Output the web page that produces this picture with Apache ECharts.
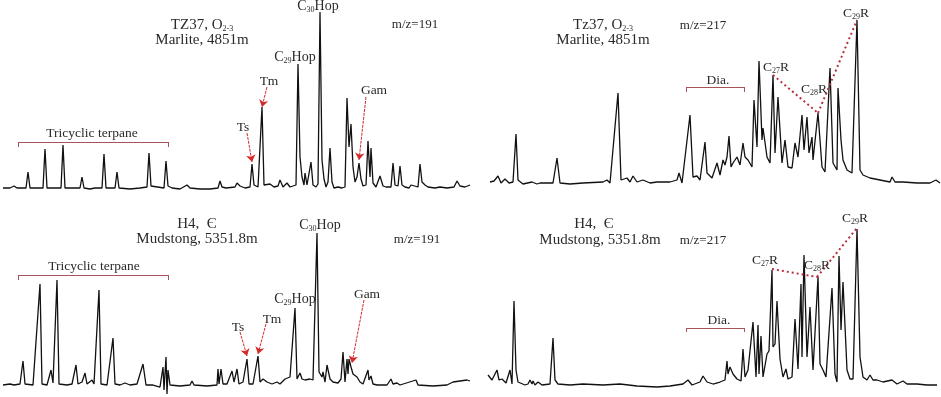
<!DOCTYPE html>
<html>
<head>
<meta charset="utf-8">
<script src="https://cdn.jsdelivr.net/npm/echarts@6/dist/echarts.min.js"></script>
<style>
html,body{margin:0;padding:0;background:#fff}
#main{width:941px;height:397px}
</style>
</head>
<body>
<div id="main"></div>
<script>
// retention position (panel px) , abundance (arbitrary)

// TZ37 m/z=191
var tz191 = [[3,9],[10,9],[14,11],[17,9],[26,9],[28,25],[30,9],[43,9],[45,48],[47,9],[61,9],[63,52],[65,9],[80,9],[82,20],[84,9],[90,8],[95,9],[102,9],[104,43],[106,9],[115,9],[117,25],[119,9],[130,8],[140,9],[147,10],[149,44],[151,11],[153,9],[164,9],[166,36],[168,11],[170,12],[172,9],[180,8],[187,12],[190,9],[200,8],[210,8],[218,9],[220,16],[222,10],[224,12],[226,9],[235,10],[237,14],[240,11],[242,12],[245,9],[250,10],[252,33],[254,12],[258,10],[260,12],[262,90],[264,12],[266,10],[270,13],[274,10],[278,11],[280,17],[283,10],[287,14],[290,10],[293,11],[296,12],[298,133],[300,40],[302,20],[304,12],[305,24],[307,12],[309,14],[311,35],[313,12],[316,10],[318,13],[320,185],[322,37],[324,18],[326,10],[328,15],[330,49],[332,15],[334,9],[338,10],[342,9],[345,10],[347,99],[349,50],[351,73],[353,30],[355,15],[357,20],[359,34],[361,18],[363,11],[366,12],[368,56],[370,20],[371,49],[373,14],[376,10],[380,21],[383,11],[386,10],[391,10],[393,34],[395,12],[398,11],[400,31],[402,12],[405,10],[407,12],[409,9],[411,12],[413,10],[418,10],[420,33],[422,15],[425,12],[428,10],[435,9],[440,10],[447,9],[454,10],[457,16],[460,11],[465,10],[470,12]];

// TZ37 m/z=217
var tz217 = [[20,15],[24,16],[28,21],[31,14],[35,18],[39,14],[43,15],[46,63],[48,17],[53,13],[62,15],[67,13],[70,14],[83,14],[87,39],[90,14],[100,13],[113,14],[133,15],[137,17],[140,14],[148,104],[151,17],[157,19],[160,15],[163,21],[167,15],[173,17],[180,14],[187,15],[200,15],[207,17],[209,24],[212,14],[220,82],[223,20],[227,21],[230,17],[235,55],[237,24],[242,19],[247,34],[250,22],[253,37],[255,32],[257,40],[259,61],[261,30],[263,34],[267,40],[270,32],[273,54],[275,40],[278,37],[282,30],[284,97],[287,50],[289,136],[292,57],[293,69],[297,40],[300,34],[303,122],[305,44],[308,100],[312,34],[315,57],[318,30],[322,29],[325,54],[328,40],[332,82],[334,47],[337,80],[339,44],[342,60],[343,37],[348,84],[352,30],[355,25],[360,129],[363,34],[367,27],[368,109],[371,57],[373,37],[377,27],[382,24],[387,177],[390,27],[393,22],[400,19],[410,17],[420,15],[422,20],[425,15],[433,15],[447,14],[460,14],[466,17],[470,14]];

// H4 m/z=191
var h4191 = [[3,12],[10,13],[14,12],[20,13],[23,36],[25,13],[33,12],[40,113],[42,13],[47,12],[51,27],[53,14],[57,117],[59,13],[67,12],[72,13],[76,32],[78,13],[82,15],[85,24],[87,13],[92,17],[94,13],[99,107],[101,13],[107,12],[113,59],[115,13],[120,12],[125,14],[130,12],[137,13],[143,33],[146,12],[153,12],[160,10],[163,30],[164,7],[166,40],[167,3],[168,27],[170,12],[180,11],[190,12],[192,16],[194,12],[207,11],[217,12],[218,28],[219,13],[221,28],[223,13],[227,13],[232,26],[234,15],[237,28],[239,13],[243,15],[247,38],[249,13],[253,13],[258,41],[260,15],[263,18],[267,15],[269,17],[272,13],[277,15],[280,13],[285,18],[287,17],[290,20],[295,89],[297,18],[300,24],[302,18],[305,17],[310,18],[313,17],[317,164],[319,25],[322,20],[323,25],[325,15],[327,32],[330,18],[333,15],[338,14],[341,18],[343,45],[345,15],[347,38],[348,23],[349,38],[351,30],[353,23],[357,20],[360,15],[363,13],[368,27],[369,17],[371,21],[373,13],[377,12],[387,12],[391,18],[393,13],[397,14],[400,12],[416,17],[418,12],[433,11],[447,12],[453,15],[460,16],[467,17],[470,16]];

// H4 m/z=217
var h4217 = [[18,22],[22,17],[27,27],[29,17],[32,18],[36,14],[38,13],[40,27],[42,13],[44,96],[46,27],[48,15],[55,12],[58,13],[60,17],[62,13],[63,16],[65,12],[68,15],[72,12],[80,13],[83,59],[85,17],[88,13],[100,12],[113,13],[133,12],[150,13],[167,11],[187,10],[200,11],[213,13],[218,17],[222,12],[230,15],[233,21],[237,15],[243,13],[250,15],[255,17],[257,36],[258,23],[260,30],[263,23],[267,18],[271,16],[273,48],[275,20],[278,27],[283,75],[286,20],[288,72],[289,23],[291,61],[293,20],[297,43],[299,46],[302,127],[303,50],[305,53],[307,96],[310,38],[313,20],[316,28],[318,18],[322,20],[325,78],[328,28],[331,113],[332,40],[334,142],[337,40],[340,90],[343,27],[348,120],[350,33],[353,27],[356,20],[362,109],[365,23],[367,15],[369,141],[371,67],[373,115],[377,27],[380,18],[383,18],[387,168],[390,40],[393,20],[397,17],[400,22],[403,17],[407,17],[413,15],[422,17],[427,13],[433,16],[437,13],[447,13],[457,12],[467,12]];

var FONT = 'Liberation Serif';
var richSub = {
  s: {fontFamily: FONT, fontSize: 8, verticalAlign: 'bottom', lineHeight: 12, color: '#2a2a2a'}
};

function lbl(x, y, txt, size) {
  return {
    coord: [x, y],
    label: {formatter: txt, fontSize: size || 15}
  };
}
function arrow(x1, y1, x2, y2) {
  return [{coord: [x1, y1], symbol: 'none'}, {coord: [x2, y2], symbol: 'arrow', symbolSize: 7}];
}
function bracket(x1, x2, y, drop) {
  return [
    [{coord: [x1, y]}, {coord: [x2, y]}],
    [{coord: [x1, y]}, {coord: [x1, y - drop]}],
    [{coord: [x2, y]}, {coord: [x2, y - drop]}]
  ];
}
function seg(a, b) {
  return [{coord: a}, {coord: b}];
}

function traceSeries(idx, data, labels, arrows, bracketSegs, dotted) {
  var out = [];
  out.push({
    type: 'line',
    xAxisIndex: idx, yAxisIndex: idx,
    data: data,
    showSymbol: false,
    silent: true,
    lineStyle: {color: '#111', width: 1.3},
    markPoint: {
      silent: true,
      symbol: 'circle',
      symbolSize: 1,
      itemStyle: {color: 'rgba(0,0,0,0)'},
      label: {
        show: true, position: 'inside', color: '#2a2a2a',
        fontFamily: FONT, lineHeight: 16, rich: richSub
      },
      data: labels
    }
  });
  // red arrows
  out.push({
    type: 'line', xAxisIndex: idx, yAxisIndex: idx, data: [], silent: true,
    markLine: {
      silent: true, symbol: ['none', 'arrow'], symbolSize: 7,
      label: {show: false},
      lineStyle: {color: '#d42a2a', width: 1, type: [3, 1]},
      data: arrows
    }
  });
  // brackets
  out.push({
    type: 'line', xAxisIndex: idx, yAxisIndex: idx, data: [], silent: true,
    markLine: {
      silent: true, symbol: 'none', label: {show: false},
      lineStyle: {color: '#a8525a', width: 1, type: 'solid'},
      data: bracketSegs
    }
  });
  if (dotted) {
    out.push({
      type: 'line', xAxisIndex: idx, yAxisIndex: idx, data: [], silent: true,
      markLine: {
        silent: true, symbol: 'none', label: {show: false},
        lineStyle: {color: '#b8303c', width: 2, type: [2, 3]},
        data: dotted
      }
    });
  }
  return out;
}

var series = [].concat(
  traceSeries(0, tz191,
    [lbl(202, 172, 'TZ37, O{s|2-3}'), lbl(202, 157, 'Marlite, 4851m'), lbl(415, 172, 'm/z=191', 13),
     lbl(92, 64, 'Tricyclic terpane', 13.5), lbl(295, 140, 'C{s|29}Hop', 14), lbl(318, 191, 'C{s|30}Hop', 14),
     lbl(269, 116, 'Tm', 13.5), lbl(243, 70, 'Ts', 13.5), lbl(374, 107, 'Gam', 13.5)],
    [arrow(247, 64, 252, 35), arrow(267, 110, 262, 90), arrow(366, 100, 359, 37)],
    bracket(18, 168, 55, 5), null),
  traceSeries(1, tz217,
    [lbl(133, 172, 'Tz37, O{s|2-3}'), lbl(133, 157, 'Marlite, 4851m'), lbl(233, 171, 'm/z=217', 13),
     lbl(248, 117, 'Dia.', 13.5), lbl(306, 130, 'C{s|27}R', 13.5), lbl(344, 108, 'C{s|28}R', 13.5),
     lbl(386, 184, 'C{s|29}R', 13.5)],
    [],
    bracket(216, 274, 110, 5),
    [seg([303, 122], [348, 84]), seg([348, 84], [387, 177])]),
  traceSeries(2, h4191,
    [lbl(197, 173, 'H4,  Є'), lbl(197, 158, 'Mudstong, 5351.8m'), lbl(417, 157, 'm/z=191', 13),
     lbl(94, 131, 'Tricyclic terpane', 13.5), lbl(320, 172, 'C{s|30}Hop', 14), lbl(295, 98, 'C{s|29}Hop', 14),
     lbl(238, 70, 'Ts', 13.5), lbl(272, 78, 'Tm', 13.5), lbl(367, 103, 'Gam', 13.5)],
    [arrow(240, 65, 247, 41), arrow(266, 73, 258, 43), arrow(364, 97, 352, 34)],
    bracket(18, 168, 122, 5), null),
  traceSeries(3, h4217,
    [lbl(124, 173, 'H4,  Є'), lbl(130, 157, 'Mudstong, 5351.8m'), lbl(233, 156, 'm/z=217', 13),
     lbl(249, 77, 'Dia.', 13.5), lbl(295, 137, 'C{s|27}R', 13.5), lbl(347, 132, 'C{s|28}R', 13.5),
     lbl(385, 179, 'C{s|29}R', 13.5)],
    [],
    bracket(216, 274, 69, 4),
    [seg([302, 128], [347, 120]), seg([347, 120], [387, 169])])
);

var grids = [
  {left: 0, top: 0, width: 470, height: 197},
  {left: 470, top: 0, width: 471, height: 197},
  {left: 0, top: 197, width: 470, height: 200},
  {left: 470, top: 197, width: 471, height: 200}
];
var xMax = [470, 471, 470, 471];
var yMax = [197, 197, 200, 200];

var myChart = echarts.init(document.getElementById('main'), null, {renderer: 'canvas'});
var option = {
  backgroundColor: '#fff',
  animation: false,
  grid: grids,
  xAxis: grids.map(function (g, i) {
    return {type: 'value', gridIndex: i, min: 0, max: xMax[i], show: false};
  }),
  yAxis: grids.map(function (g, i) {
    return {type: 'value', gridIndex: i, min: 0, max: yMax[i], show: false};
  }),
  series: series
};
myChart.setOption(option);
</script>
</body>
</html>
